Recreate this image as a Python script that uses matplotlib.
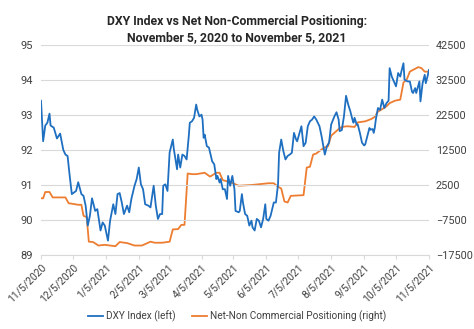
import matplotlib
matplotlib.use("Agg")
import matplotlib.pyplot as plt
import matplotlib.dates as mdates
import numpy as np
import pandas as pd

plt.rcParams['font.family'] = ['Roboto', 'DejaVu Sans']

start_date = "2020-11-05"

# DXY Index (left axis): days since 2020-11-05 and index level
dxy_day = [0, 2, 4, 6, 8, 9, 12, 15, 18, 21, 23, 25, 27, 29, 33, 35, 38, 40, 42, 44,
           46, 48, 51, 53, 56, 58, 60, 63, 65, 68, 70, 72, 74, 76, 78, 81, 83, 85, 88, 90,
           92, 94, 96, 98, 101, 103, 106, 108, 110, 112, 114, 115, 117, 119, 121, 124, 125, 128, 129, 131,
           133, 135, 137, 139, 140, 142, 144, 146, 147, 149, 151, 152, 153, 154, 156, 158, 161, 163, 165, 166,
           168, 169, 171, 173, 175, 176, 178, 180, 182, 183, 186, 187, 189, 190, 192, 194, 195, 196, 198, 199,
           201, 203, 205, 207, 209, 211, 212, 214, 216, 219, 221, 223, 224, 226, 228, 230, 232, 234, 236, 238,
           240, 241, 244, 245, 247, 249, 251, 253, 255, 257, 259, 262, 264, 267, 269, 271, 273, 276, 278, 280,
           281, 283, 285, 287, 289, 291, 293, 294, 295, 297, 298, 300, 302, 304, 305, 307, 309, 310, 312, 313,
           314, 315, 317, 319, 321, 323, 325, 327, 328, 330, 332, 334, 336, 338, 339, 341, 342, 345, 347, 349,
           350, 352, 353, 356, 357, 359, 361, 362, 364, 365]
dxy_val = [93.41, 92.25, 92.70, 92.78, 93.04, 92.70, 92.64, 92.33, 92.47, 92.00, 91.87, 91.83, 91.26, 90.74, 90.83, 91.08, 90.74, 90.69, 90.41, 89.84,
           90.12, 90.62, 90.26, 90.31, 89.70, 89.93, 89.84, 89.41, 89.98, 90.45, 90.17, 90.74, 90.77, 90.50, 90.17, 90.41, 90.22, 90.60, 90.98, 91.17,
           91.50, 91.02, 90.88, 90.45, 90.41, 90.36, 90.98, 90.41, 90.03, 90.17, 90.17, 90.98, 91.02, 90.83, 91.93, 92.30, 92.02, 91.45, 91.87, 91.50,
           91.87, 91.83, 91.73, 92.39, 92.78, 92.82, 92.92, 93.30, 93.15, 92.96, 93.01, 92.87, 92.35, 92.44, 92.11, 92.07, 91.68, 91.59, 91.17, 91.26,
           91.07, 91.17, 90.88, 90.88, 90.60, 91.26, 90.98, 91.26, 90.88, 90.26, 90.22, 90.26, 90.74, 90.50, 90.17, 90.12, 89.98, 89.84, 89.98, 89.79,
           89.70, 90.03, 89.98, 89.79, 90.03, 90.45, 90.03, 89.98, 90.12, 90.50, 90.50, 91.02, 91.92, 92.30, 91.97, 91.73, 91.83, 91.87, 91.92, 92.49,
           92.30, 92.25, 92.58, 92.68, 92.11, 92.21, 92.68, 92.82, 92.87, 92.96, 92.87, 92.68, 92.39, 91.87, 92.11, 92.21, 92.73, 92.96, 93.08, 92.87,
           92.54, 92.57, 92.96, 93.55, 93.30, 93.11, 92.87, 92.78, 92.92, 92.73, 92.73, 92.49, 92.21, 92.13, 92.16, 92.39, 92.63, 92.58, 92.60, 92.49,
           92.63, 92.87, 93.20, 93.15, 93.44, 93.20, 93.34, 93.41, 94.34, 94.10, 93.96, 93.82, 94.20, 94.10, 94.24, 94.48, 94.01, 93.96, 93.96, 93.67,
           93.63, 93.77, 93.63, 93.96, 93.39, 93.91, 94.15, 93.91, 94.15, 94.29]

# Net non-commercial positioning (right axis)
pos_day = [0, 2, 4, 8, 11, 23, 26, 35, 38, 40, 43, 45, 49, 54, 60, 65, 70, 74, 81, 88,
           95, 103, 107, 114, 121, 124, 129, 132, 135, 138, 142, 146, 154, 159, 165, 168, 171, 179, 186, 198,
           214, 219, 223, 226, 229, 232, 235, 247, 250, 253, 256, 259, 262, 266, 270, 273, 276, 280, 283, 288,
           295, 298, 305, 311, 314, 317, 320, 325, 328, 333, 338, 341, 344, 347, 350, 355, 358, 361, 365]
pos_val = [-1300, -1300, 500, 500, -1050, -1050, -2700, -3150, -3150, -6300, -6700, -13700, -13800, -14800, -14600, -14800, -15000, -13800, -14100, -14800,
           -14800, -13700, -14000, -14000, -13700, -10200, -10100, -8900, -8900, 5800, 5600, 5600, 6000, 4900, 6000, 6000, 3900, 3200, 2300, 2500,
           3000, 3000, 2000, 1500, -2200, -2500, -600, -400, 7500, 7700, 11200, 11500, 12200, 13100, 13600, 16600, 17400, 18500, 19100, 19300,
           19100, 20400, 20700, 21400, 22000, 23500, 24000, 25000, 25900, 26600, 26900, 31800, 32600, 34900, 35400, 36200, 35900, 34900, 34900]

left_ticks = [89, 90, 91, 92, 93, 94, 95]
right_ticks = [-17500, -7500, 2500, 12500, 22500, 32500, 42500]
tick_dates = ["2020-11-05", "2020-12-05", "2021-01-05", "2021-02-05", "2021-03-05", "2021-04-05",
              "2021-05-05", "2021-06-05", "2021-07-05", "2021-08-05", "2021-09-05", "2021-10-05", "2021-11-05"]
tick_labels = ["11/5/2020", "12/5/2020", "1/5/2021", "2/5/2021", "3/5/2021", "4/5/2021",
               "5/5/2021", "6/5/2021", "7/5/2021", "8/5/2021", "9/5/2021", "10/5/2021", "11/5/2021"]

t0 = pd.Timestamp(start_date)
dxy_dates = [t0 + pd.Timedelta(days=d) for d in dxy_day]
pos_dates = [t0 + pd.Timedelta(days=d) for d in pos_day]
tick_pos = pd.to_datetime(tick_dates)

BLUE = "#1f6fc1"
ORANGE = "#ed7d31"
TXT = "#404040"

fig = plt.figure(figsize=(4.74, 3.29), dpi=100)
ax = fig.add_axes([0.0865, 0.225, 0.8185, 0.638])
ax2 = ax.twinx()

l1, = ax.plot(dxy_dates, dxy_val, color=BLUE, lw=1.3, zorder=3)
l2, = ax2.plot(pos_dates, pos_val, color=ORANGE, lw=1.3, zorder=2)
ax.set_zorder(ax2.get_zorder() + 1)
ax.patch.set_visible(False)

ax.set_ylim(89, 95)
ax2.set_ylim(-17500, 42500)
ax.set_yticks(left_ticks)
ax2.set_yticks(right_ticks)
ax.set_xlim(tick_pos[0], tick_pos[-1])
ax.set_xticks(tick_pos)
ax.set_xticklabels(tick_labels, rotation=45, ha='right', rotation_mode='anchor')

ax.grid(axis='y', color='#d9d9d9', lw=0.8)
ax.set_axisbelow(True)
for a in (ax, ax2):
    for s in ('top', 'right', 'left', 'bottom'):
        a.spines[s].set_visible(False)
ax.spines['bottom'].set_visible(True)
ax.spines['bottom'].set_color('#d9d9d9')

ax.tick_params(axis='y', length=0, pad=6, labelsize=8, labelcolor=TXT)
ax2.tick_params(axis='y', length=0, pad=5, labelsize=7.8, labelcolor=TXT)
ax.tick_params(axis='x', length=3, color='#d9d9d9', pad=2, labelsize=7.5, labelcolor=TXT)

fig.text(0.5, 0.955, "DXY Index vs Net Non-Commercial Positioning:\nNovember 5, 2020 to November 5, 2021",
         ha='center', va='top', fontsize=8.8, fontweight='bold', color='#262626', linespacing=1.3)

fig.legend([l1, l2], ["DXY Index (left)", "Net-Non Commercial Positioning (right)"],
           loc='center', bbox_to_anchor=(0.5, 0.04), ncol=2, frameon=False,
           fontsize=7.2, handlelength=1.5, columnspacing=1.6, handletextpad=0.3,
           labelcolor=TXT)

fig.savefig("out.png", dpi=100)
